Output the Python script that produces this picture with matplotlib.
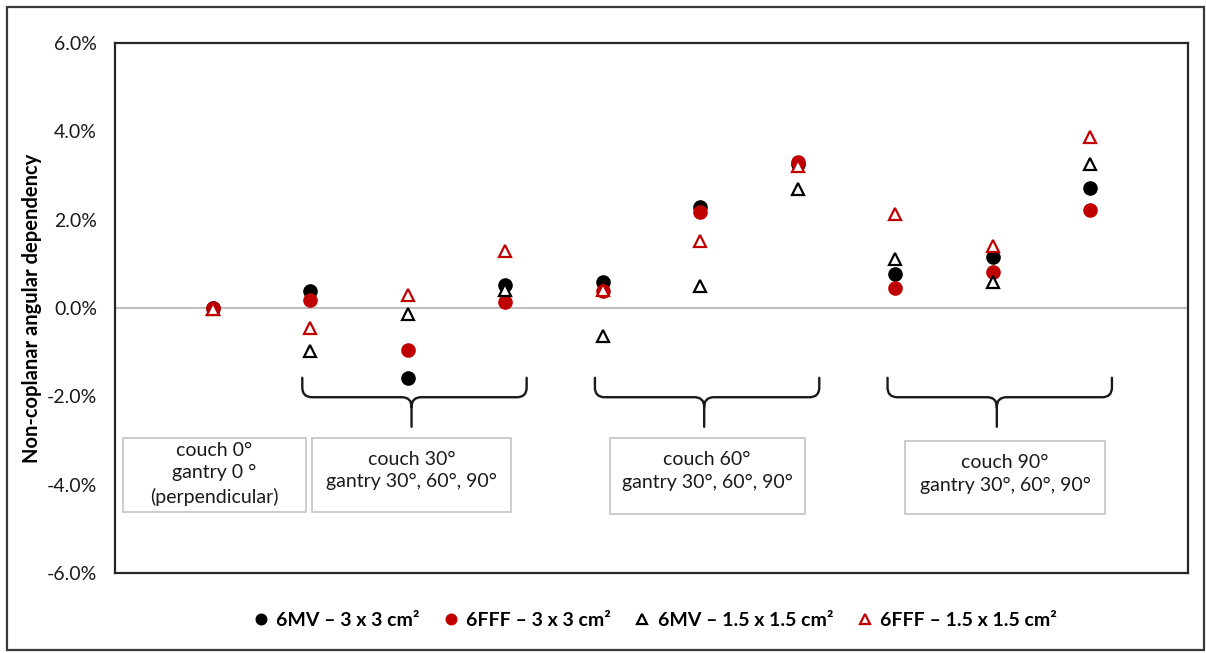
import numpy as np
import matplotlib
matplotlib.use("Agg")
import matplotlib.pyplot as plt
from matplotlib.path import Path
from matplotlib.patches import PathPatch, Rectangle
from matplotlib.ticker import FuncFormatter

plt.rcParams['font.family'] = ['Lato', 'DejaVu Sans']

# measurement positions: 0 = couch 0/gantry 0, then 3 gantry angles per couch angle
positions = np.arange(10)

# non-coplanar angular dependency (%)
mv_3x3 = [0.00, 0.38, -1.58, 0.52, 0.59, 2.29, 3.25, 0.77, 1.15, 2.72]
fff_3x3 = [0.00, 0.18, -0.95, 0.14, 0.38, 2.17, 3.31, 0.45, 0.81, 2.22]
mv_15 = [-0.03, -0.97, -0.14, 0.41, -0.63, 0.50, 2.69, 1.11, 0.59, 3.26]
fff_15 = [-0.03, -0.45, 0.29, 1.29, 0.40, 1.52, 3.22, 2.13, 1.40, 3.87]

series_labels = ['6MV – 3 x 3 cm²', '6FFF – 3 x 3 cm²',
                 '6MV – 1.5 x 1.5 cm²', '6FFF – 1.5 x 1.5 cm²']

group_members = [[1, 2, 3], [4, 5, 6], [7, 8, 9]]
box_texts = ['couch 0°\ngantry 0 °\n(perpendicular)',
             'couch 30°\ngantry 30°, 60°, 90°',
             'couch 60°\ngantry 30°, 60°, 90°',
             'couch 90°\ngantry 30°, 60°, 90°']

RED = '#C00000'

fig = plt.figure(figsize=(12.06, 6.53), dpi=100)
ax = fig.add_axes([115 / 1206, 1 - 573 / 653, 1073 / 1206, 530 / 653])

# outer frame of the figure
fig.patches.append(Rectangle((7 / 1206, 3 / 653), 1197 / 1206, 643 / 653,
                             transform=fig.transFigure, fill=False,
                             edgecolor='#3a3a3a', lw=1.6))

ax.axhline(0, color='#bfbfbf', lw=1.5, zorder=1)

ax.plot(positions, mv_3x3, 'o', color='black', ms=9.5, label=series_labels[0], zorder=3)
ax.plot(positions, fff_3x3, 'o', color=RED, ms=9.5, label=series_labels[1], zorder=4)
ax.plot(positions, mv_15, '^', mfc='white', mec='black', mew=1.6, ms=8.5,
        label=series_labels[2], zorder=5)
ax.plot(positions, fff_15, '^', mfc='white', mec=RED, mew=1.6, ms=8.5,
        label=series_labels[3], zorder=6)

ax.set_xlim(-1, 10)
ax.set_ylim(-6, 6)
ax.set_yticks(np.arange(-6, 6.1, 2))
ax.yaxis.set_major_formatter(FuncFormatter(lambda v, p: f'{v:.1f}%'))
ax.tick_params(axis='y', length=0, pad=13, labelsize=14, colors='#1a1a1a')
ax.set_xticks([])
for s in ax.spines.values():
    s.set_color('#262626')
    s.set_linewidth(1.6)

ax.set_ylabel('Non-coplanar angular dependency', fontsize=14.5, fontweight='bold')
ax.yaxis.set_label_coords(-0.068, 0.5)


def brace(x0, x1, xc, ytop=-1.58, yh=-2.02, ybot=-2.69, rx=0.1, ry=0.22):
    verts = [(x0, ytop), (x0, yh + ry), (x0, yh), (x0 + rx, yh),
             (xc - rx, yh), (xc, yh), (xc, yh - ry), (xc, ybot),
             (xc, yh - ry), (xc, yh), (xc + rx, yh),
             (x1 - rx, yh), (x1, yh), (x1, yh + ry), (x1, ytop)]
    codes = [Path.MOVETO, Path.LINETO, Path.CURVE3, Path.CURVE3,
             Path.LINETO, Path.CURVE3, Path.CURVE3, Path.LINETO,
             Path.MOVETO, Path.CURVE3, Path.CURVE3,
             Path.LINETO, Path.CURVE3, Path.CURVE3, Path.LINETO]
    ax.add_patch(PathPatch(Path(verts, codes), fill=False, ec='#1a1a1a', lw=1.7,
                           capstyle='round', joinstyle='round'))


for members in group_members:
    brace(members[0] - 0.08, members[-1] + 0.22, np.mean(members) + 0.04)

# label boxes (data coords)
boxes = [(-0.92, 0.96, -2.94, -4.62), (1.02, 3.06, -2.94, -4.62),
         (4.07, 6.07, -2.94, -4.66), (7.10, 9.15, -3.01, -4.66)]
text_y = [-3.75, -3.68, -3.69, -3.76]
for (bx0, bx1, by0, by1), txt, ty in zip(boxes, box_texts, text_y):
    ax.add_patch(Rectangle((bx0, by1), bx1 - bx0, by0 - by1, fill=True,
                           facecolor='white', edgecolor='#c8c8c8', lw=1.3, zorder=2))
    ax.text((bx0 + bx1) / 2, ty, txt, ha='center', va='center', fontsize=14,
            linespacing=1.4, color='#1a1a1a', zorder=3)

leg = fig.legend(loc='center', bbox_to_anchor=(654 / 1206, 1 - 620 / 653), ncol=4,
                 frameon=False, handletextpad=0.3, columnspacing=1.1,
                 markerscale=0.8, handlelength=1.0,
                 prop={'weight': 'bold', 'size': 14})

fig.savefig('out.png', dpi=100)
